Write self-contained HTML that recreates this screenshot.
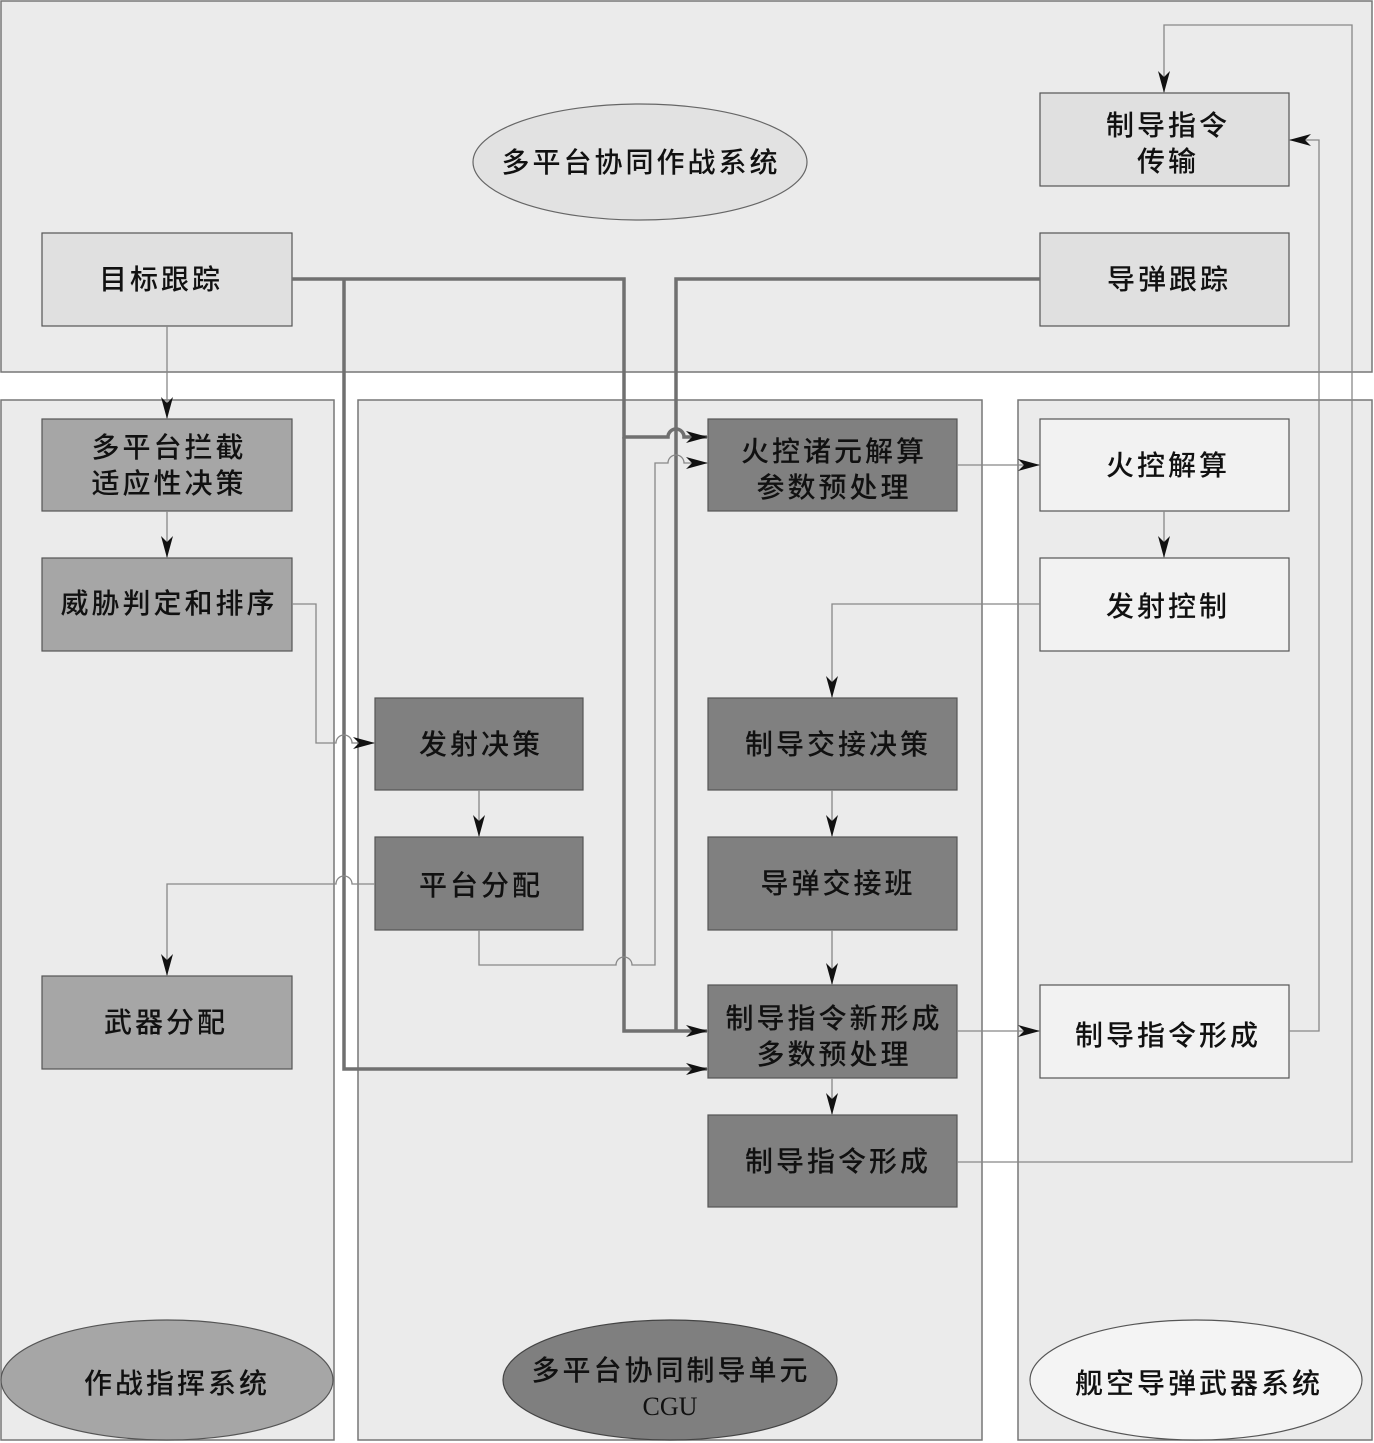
<!DOCTYPE html>
<html><head><meta charset="utf-8"><style>
html,body{margin:0;padding:0;background:#fff}
svg{display:block}
text{font-family:"Liberation Sans","Noto Sans CJK SC",sans-serif;font-size:28px;letter-spacing:3px;fill:#111;text-anchor:middle;font-weight:500}
</style></head><body>
<svg width="1374" height="1443" viewBox="0 0 1374 1443" xmlns="http://www.w3.org/2000/svg">
<defs>
<marker id="a" markerWidth="22" markerHeight="12" refX="21" refY="6" orient="auto" markerUnits="userSpaceOnUse"><path d="M0,0 L22,6 L0,12 L6,6 Z" fill="#111"/></marker>
</defs>
<g fill="#ebebeb" stroke="#777" stroke-width="1.5">
<rect x="1" y="1" width="1371" height="371"/>
<rect x="1" y="400" width="333" height="1040"/>
<rect x="358" y="400" width="624" height="1040"/>
<rect x="1018" y="400" width="354" height="1040"/>
</g>
<ellipse cx="640" cy="162" rx="167" ry="58" fill="#e2e2e2" stroke="#666" stroke-width="1.2"/>
<ellipse cx="167" cy="1380" rx="166" ry="60" fill="#a6a6a6" stroke="#555" stroke-width="1.2"/>
<ellipse cx="670" cy="1380" rx="167" ry="60" fill="#7f7f7f" stroke="#444" stroke-width="1.2"/>
<ellipse cx="1196" cy="1380" rx="166" ry="60" fill="#f4f4f4" stroke="#555" stroke-width="1.2"/>
<g stroke="#555" stroke-width="1.2">
<rect x="42" y="233" width="250" height="93" fill="#e0e0e0"/>
<rect x="1040" y="93" width="249" height="93" fill="#e0e0e0"/>
<rect x="1040" y="233" width="249" height="93" fill="#e0e0e0"/>
<rect x="42" y="419" width="250" height="92" fill="#a6a6a6"/>
<rect x="42" y="558" width="250" height="93" fill="#a6a6a6"/>
<rect x="42" y="976" width="250" height="93" fill="#a6a6a6"/>
<rect x="375" y="698" width="208" height="92" fill="#808080"/>
<rect x="375" y="837" width="208" height="93" fill="#808080"/>
<rect x="708" y="419" width="249" height="92" fill="#808080"/>
<rect x="708" y="698" width="249" height="92" fill="#808080"/>
<rect x="708" y="837" width="249" height="93" fill="#808080"/>
<rect x="708" y="985" width="249" height="93" fill="#808080"/>
<rect x="708" y="1115" width="249" height="92" fill="#808080"/>
<rect x="1040" y="419" width="249" height="92" fill="#f2f2f2"/>
<rect x="1040" y="558" width="249" height="93" fill="#f2f2f2"/>
<rect x="1040" y="985" width="249" height="93" fill="#f2f2f2"/>
</g>
<g fill="none" stroke="#707070" stroke-width="3.5">
<path d="M292,279 H624 V437 H668 A8,8 0 0 1 684,437 H707" marker-end="url(#a)"/>
<path d="M624,437 V1031 H707" marker-end="url(#a)"/>
<path d="M344,279 V1069 H707" marker-end="url(#a)"/>
<path d="M1040,279 H676 V1031"/>
</g>
<g fill="none" stroke="#888" stroke-width="1.3">
<path d="M167,326 V418" marker-end="url(#a)"/>
<path d="M167,511 V557" marker-end="url(#a)"/>
<path d="M292,604 H316 V743 H336 A8,8 0 0 1 352,743 H374" marker-end="url(#a)"/>
<path d="M479,790 V836" marker-end="url(#a)"/>
<path d="M375,884 H352 A8,8 0 0 0 336,884 H167 V975" marker-end="url(#a)"/>
<path d="M479,930 V965 H616 A8,8 0 0 1 632,965 H655 V463 H668 A8,8 0 0 1 684,463 H707" marker-end="url(#a)"/>
<path d="M957,465 H1039" marker-end="url(#a)"/>
<path d="M1164,511 V557" marker-end="url(#a)"/>
<path d="M1040,604 H832 V697" marker-end="url(#a)"/>
<path d="M832,790 V836" marker-end="url(#a)"/>
<path d="M832,930 V984" marker-end="url(#a)"/>
<path d="M832,1078 V1114" marker-end="url(#a)"/>
<path d="M957,1031 H1039" marker-end="url(#a)"/>
<path d="M1289,1031 H1319 V140 H1290" marker-end="url(#a)"/>
<path d="M957,1162 H1352 V25 H1164 V92" marker-end="url(#a)"/>
</g>
<text x="641" y="172">多平台协同作战系统</text>
<text x="1168" y="135">制导指令</text>
<text x="1168" y="171">传输</text>
<text x="161" y="289">目标跟踪</text>
<text x="1169" y="289">导弹跟踪</text>
<text x="169" y="457">多平台拦截</text>
<text x="169" y="493">适应性决策</text>
<text x="169" y="613">威胁判定和排序</text>
<text x="166" y="1032">武器分配</text>
<text x="481" y="754">发射决策</text>
<text x="481" y="895">平台分配</text>
<text x="834" y="461">火控诸元解算</text>
<text x="834" y="497">参数预处理</text>
<text x="838" y="754">制导交接决策</text>
<text x="838" y="893">导弹交接班</text>
<text x="834" y="1028">制导指令新形成</text>
<text x="834" y="1064">多数预处理</text>
<text x="838" y="1171">制导指令形成</text>
<text x="1168" y="475">火控解算</text>
<text x="1168" y="616">发射控制</text>
<text x="1168" y="1045">制导指令形成</text>
<text x="177" y="1393">作战指挥系统</text>
<text x="671" y="1380">多平台协同制导单元</text>
<text x="670" y="1415" style="font-family:'Liberation Serif',serif;font-size:26px;letter-spacing:0">CGU</text>
<text x="1199" y="1393">舰空导弹武器系统</text>
</svg>
</body></html>
